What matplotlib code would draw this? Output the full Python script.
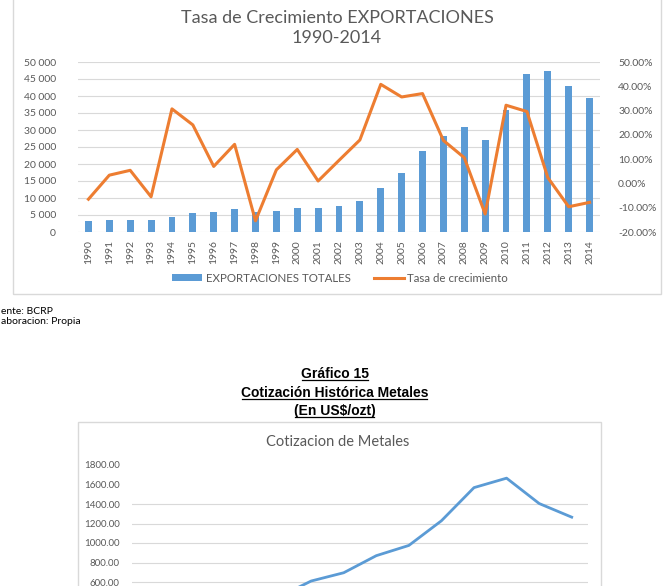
import matplotlib
matplotlib.use("Agg")
import matplotlib.pyplot as plt
from matplotlib.patches import Rectangle, Patch
from matplotlib.lines import Line2D
from matplotlib.ticker import FuncFormatter
import numpy as np

# ---------------- data ----------------
years = ["1990", "1991", "1992", "1993", "1994", "1995", "1996", "1997", "1998",
         "1999", "2000", "2001", "2002", "2003", "2004", "2005", "2006", "2007",
         "2008", "2009", "2010", "2011", "2012", "2013", "2014"]
exportaciones = [3280, 3393, 3578, 3385, 4424, 5491, 5878, 6825, 5757, 6088,
                 6955, 7026, 7714, 9091, 12809, 17368, 23830, 28094, 31018,
                 27071, 35803, 46376, 47411, 42861, 39533]
tasa = [-6.5, 3.4, 5.4, -5.5, 30.7, 24.1, 7.0, 16.1, -15.4, 5.6, 14.0, 1.0,
        9.5, 17.9, 40.8, 35.6, 37.0, 17.7, 10.6, -12.6, 32.2, 29.6, 2.4,
        -9.6, -7.8]
metal_years = ["2001", "2002", "2003", "2004", "2005", "2006", "2007", "2008",
               "2009", "2010", "2011", "2012", "2013", "2014"]
cotizacion = [271, 310, 363, 409, 445, 610, 695, 870, 975, 1228, 1568, 1665,
              1405, 1265]

W, H = 669, 586
DPI = 100
fig = plt.figure(figsize=(W / DPI, H / DPI), dpi=DPI)
fig.patch.set_facecolor("white")

def fx(px):
    return px / W

def fy(py):
    return 1 - py / H

FONT = ["Lato", "DejaVu Sans"]
GREY = "#595959"
GRID = "#D9D9D9"
BLUE = "#5B9BD5"
ORANGE = "#ED7D31"

# ---------------- chart 1 frame ----------------
fig.patches.append(Rectangle((fx(13), fy(294)), fx(661) - fx(13), fy(-10) - fy(294),
                             transform=fig.transFigure, fill=False,
                             edgecolor=GRID, lw=1.0, zorder=0))

ax1 = fig.add_axes([fx(78), fy(232), fx(600) - fx(78), fy(62) - fy(232)])
x = np.arange(len(years))
ax1.bar(x, exportaciones, width=0.33, color=BLUE, zorder=2,
        label="EXPORTACIONES TOTALES")
ax1.set_xlim(-0.5, len(years) - 0.5)
ax1.set_ylim(0, 50000)
ax1.set_yticks(np.arange(0, 50001, 5000))
ax1.yaxis.set_major_formatter(FuncFormatter(lambda v, p: f"{int(v):,}".replace(",", " ")))
ax1.set_xticks(x)
ax1.set_xticklabels(years, rotation=90, fontsize=7.5, color=GREY, family=FONT)
ax1.grid(axis="y", color=GRID, lw=0.8, zorder=0)
ax1.set_axisbelow(True)
for s in ax1.spines.values():
    s.set_visible(False)
ax1.tick_params(axis="both", length=0, labelsize=7.5, labelcolor=GREY)
ax1.tick_params(axis="y", pad=16)
ax1.tick_params(axis="x", pad=6)
for lab in ax1.get_yticklabels():
    lab.set_family(FONT)

ax2 = ax1.twinx()
ax2.plot(x, tasa, color=ORANGE, lw=2.2, zorder=3, solid_joinstyle="round",
         label="Tasa de crecimiento")
ax2.set_ylim(-20, 50)
ax2.set_yticks(np.arange(-20, 51, 10))
ax2.yaxis.set_major_formatter(FuncFormatter(lambda v, p: f"{v:.2f}%"))
for s in ax2.spines.values():
    s.set_visible(False)
ax2.tick_params(axis="y", length=0, labelsize=7.5, labelcolor=GREY, pad=13)
for lab in ax2.get_yticklabels():
    lab.set_family(FONT)

fig.text(fx(337), fy(18), "Tasa de Crecimiento EXPORTACIONES", ha="center",
         va="center", fontsize=13, color=GREY, family=FONT)
fig.text(fx(337), fy(38), "1990-2014", ha="center", va="center",
         fontsize=13, color=GREY, family=FONT)

handles = [Patch(facecolor=BLUE, edgecolor="none", label="EXPORTACIONES TOTALES"),
           Line2D([0], [0], color=ORANGE, lw=2.2, label="Tasa de crecimiento")]
leg = fig.legend(handles=handles, loc="center", bbox_to_anchor=(fx(340), fy(278)),
                 ncol=2, frameon=False, handlelength=2.6,
                 handleheight=0.6, handletextpad=0.3, columnspacing=2.0,
                 prop={"family": FONT, "size": 8.3})
for t in leg.get_texts():
    t.set_color(GREY)

# footnotes (their beginnings are cut off at the page edge in the source)
fig.text(fx(1), fy(311), "ente: BCRP", fontsize=7.5, family=FONT,
         color="black", ha="left", va="center")
fig.text(fx(1), fy(322), "aboracion: Propia", fontsize=7.5, family=FONT,
         color="black", ha="left", va="center")

fig.canvas.draw()
rend = fig.canvas.get_renderer()

# ---------------- document titles ----------------
def underlined(xpx, ypx, s):
    t = fig.text(fx(xpx), fy(ypx), s, ha="center", va="center", fontsize=10,
                 weight="bold", family=["Liberation Sans", "DejaVu Sans"],
                 color="black")
    bb = t.get_window_extent(renderer=rend)
    yline = bb.y0 + 1.0
    fig.lines.append(Line2D([(bb.x0 + 0.5) / W, (bb.x1 - 1.5) / W],
                            [yline / H, yline / H],
                            transform=fig.transFigure, color="black", lw=0.9))

underlined(335, 374, "Gráfico 15")
underlined(335, 393, "Cotización Histórica Metales")
underlined(335, 411, "(En US$/ozt)")

# ---------------- chart 2 ----------------
fig.patches.append(Rectangle((fx(78), fy(620)), fx(601) - fx(78), fy(422) - fy(620),
                             transform=fig.transFigure, fill=False,
                             edgecolor=GRID, lw=1.0, zorder=0))
fig.text(fx(338), fy(442), "Cotizacion de Metales", ha="center", va="center",
         fontsize=10.5, color=GREY, family=FONT)

ax3 = fig.add_axes([fx(132), fy(640.5), fx(588) - fx(132), fy(465) - fy(640.5)])
xm = np.arange(len(metal_years))
ax3.plot(xm, cotizacion, color=BLUE, lw=2.0, solid_joinstyle="round", zorder=3)
ax3.set_xlim(-0.5, len(metal_years) - 0.5)
ax3.set_ylim(0, 1800)
ax3.set_yticks(np.arange(0, 1801, 200))
ax3.yaxis.set_major_formatter(FuncFormatter(lambda v, p: f"{v:.2f}"))
ax3.set_xticks(xm)
ax3.set_xticklabels([])
ax3.grid(axis="y", color=GRID, lw=0.8, zorder=0)
ax3.set_axisbelow(True)
for gl, v in zip(ax3.get_ygridlines(), np.arange(0, 1801, 200)):
    if v > 1400:
        gl.set_visible(False)
for s in ax3.spines.values():
    s.set_visible(False)
ax3.tick_params(axis="both", length=0, labelsize=7, labelcolor=GREY)
ax3.tick_params(axis="y", pad=9)
for lab in ax3.get_yticklabels():
    lab.set_family(FONT)
    if lab.get_position()[1] < 600:
        lab.set_visible(False)

fig.savefig("out.png", dpi=DPI, facecolor="white")
